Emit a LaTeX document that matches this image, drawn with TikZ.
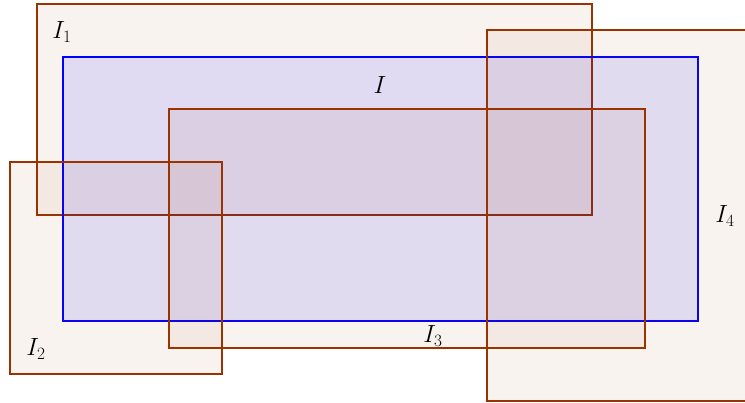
\documentclass[tikz,border=0pt]{standalone}
\definecolor{rbrown}{RGB}{153,51,0}
\tikzset{
  brect/.style={draw=rbrown, line width=1.8pt, fill=rbrown, fill opacity=0.06, draw opacity=1},
  irect/.style={draw=blue, line width=1.8pt, fill=blue, fill opacity=0.1, draw opacity=1},
  lbl/.style={inner sep=0pt, font=\fontsize{24}{28}\selectfont}
}
\begin{document}
\begin{tikzpicture}[x=1pt,y=-1pt]
\useasboundingbox (0,0) rectangle (745,403);
\begin{scope}
\clip (0,0) rectangle (745,403);
\draw[brect] (37,4) rectangle (592,215);
\draw[irect] (63,57) rectangle (698,321);
\draw[brect] (10,162) rectangle (222,374);
\draw[brect] (169,109) rectangle (645,348);
\draw[brect] (487,30) rectangle (760,401);
\end{scope}
\node[lbl] (l1) at (62,32) {$I_1$};
\node[lbl] (l) at (380,85) {$I$};
\node[lbl] (l2) at (36,349) {$I_2$};
\node[lbl] (l3) at (433,336) {$I_3$};
\node[lbl] (l4) at (725,216) {$I_4$};
\end{tikzpicture}
\end{document}
